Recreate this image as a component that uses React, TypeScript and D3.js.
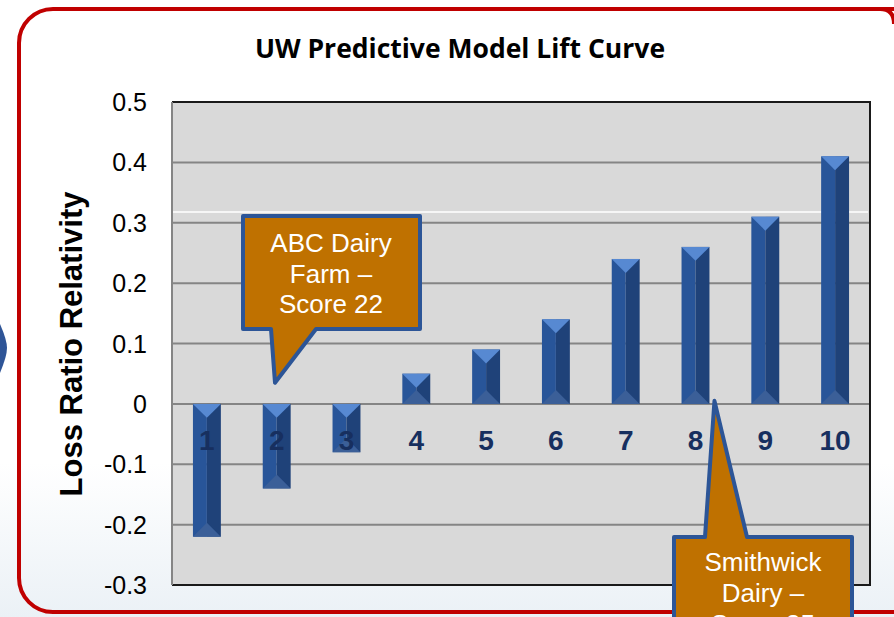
import React from "react";
import * as d3 from "d3";

const categories = ["1", "2", "3", "4", "5", "6", "7", "8", "9", "10"];
const values = [-0.22, -0.14, -0.08, 0.05, 0.09, 0.14, 0.24, 0.26, 0.31, 0.41];
const yTicks = [0.5, 0.4, 0.3, 0.2, 0.1, 0, -0.1, -0.2, -0.3];
const tickLabels = ["0.5", "0.4", "0.3", "0.2", "0.1", "0", "-0.1", "-0.2", "-0.3"];
const callout1 = ["ABC Dairy", "Farm \u2013", "Score  22"];
const callout2 = ["Smithwick", "Dairy  \u2013", "Score  35"];

const W = 894;
const H = 617;
const margin = { top: 102, right: 24, bottom: 30, left: 172 };

const App = () => {
  const x = d3
    .scaleBand()
    .domain(categories)
    .range([margin.left, W - margin.right])
    .paddingInner(0.6)
    .paddingOuter(0.3);

  const y = d3
    .scaleLinear()
    .domain([-0.3, 0.5])
    .range([H - margin.bottom - 2, margin.top]);

  const right = W - margin.right;
  const bottom = y(-0.3);
  const font = "'Liberation Sans', Arial, sans-serif";

  return (
    <svg
      width={W}
      height={H}
      style={{ position: "absolute", left: 0, top: 0, display: "block" }}
    >
      <defs>
        <linearGradient id="bg" x1="0" y1="0" x2="0" y2="1">
          <stop offset="0.75" stopColor="#ffffff" />
          <stop offset="1" stopColor="#ebf1f6" />
        </linearGradient>
      </defs>
      <rect width={W} height={H} fill="url(#bg)" />
      {/* slide arrow peeking in on the left */}
      <path d="M0,324 Q7,340 7,348 Q7,356 0,373 Z" fill="#2f5597" />

      {/* red frame */}
      <rect
        x={19}
        y={9}
        width={W + 20}
        height={603}
        rx={34}
        fill="none"
        stroke="#c00000"
        strokeWidth={4}
      />
      <path
        d={`M${W - 14},9 Q${W},9 ${W},24`}
        fill="none"
        stroke="#c00000"
        strokeWidth={4}
      />

      <text
        x={460}
        y={58}
        textAnchor="middle"
        fontFamily="'Open Sans', sans-serif"
        fontWeight="bold"
        fontSize={26.5}
      >
        UW Predictive Model Lift Curve
      </text>

      {/* plot area */}
      <rect
        x={margin.left}
        y={margin.top}
        width={right - margin.left}
        height={bottom - margin.top}
        fill="#d9d9d9"
      />
      {yTicks.map((t) => (
        <line
          key={t}
          x1={margin.left}
          x2={right}
          y1={y(t)}
          y2={y(t)}
          stroke="#858585"
          strokeWidth={2}
        />
      ))}
      <line
        x1={margin.left}
        x2={right - 2}
        y1={y(0.318)}
        y2={y(0.318)}
        stroke="#ffffff"
        strokeWidth={1.5}
      />
      <path
        d={`M${margin.left},${bottom} H${right} V${margin.top} H${margin.left}`}
        fill="none"
        stroke="#1a1a1a"
        strokeWidth={2}
      />
      <line
        x1={margin.left}
        x2={margin.left}
        y1={margin.top}
        y2={bottom}
        stroke="#858585"
        strokeWidth={2}
      />

      {/* bevelled bars */}
      {values.map((v, i) => {
        const x0 = x(categories[i]) as number;
        const w = x.bandwidth();
        const xm = x0 + w / 2;
        const x1 = x0 + w;
        const yT = y(Math.max(v, 0));
        const yB = y(Math.min(v, 0));
        const b = Math.min(w / 2, (yB - yT) / 2);
        return (
          <g key={i}>
            <rect x={x0} y={yT} width={w / 2} height={yB - yT} fill="#285599" />
            <rect x={xm} y={yT} width={w / 2} height={yB - yT} fill="#1f4279" />
            <polygon
              points={`${x0},${yB} ${x1},${yB} ${xm},${yB - b}`}
              fill="#3b5f98"
            />
            <polygon
              points={`${x0},${yT} ${x1},${yT} ${xm},${yT + b}`}
              fill="#5789d2"
            />
          </g>
        );
      })}

      {/* category labels */}
      {categories.map((c) => (
        <text
          key={c}
          x={(x(c) as number) + x.bandwidth() / 2}
          y={y(0) + 46}
          textAnchor="middle"
          fontFamily={font}
          fontWeight="bold"
          fontSize={28}
          fill="#172f5f"
        >
          {c}
        </text>
      ))}

      {/* y tick labels */}
      {yTicks.map((t, i) => (
        <text
          key={t}
          x={147}
          y={y(t) + 9}
          textAnchor="end"
          fontFamily={font}
          fontSize={25}
          fill="#000"
        >
          {tickLabels[i]}
        </text>
      ))}

      <text
        transform={`translate(82,344) rotate(-90)`}
        textAnchor="middle"
        fontFamily={font}
        fontWeight="bold"
        fontSize={31}
        fill="#000"
      >
        Loss Ratio Relativity
      </text>

      {/* callout: ABC Dairy Farm */}
      <path
        d={`M243,216 H420 V329 H316 L275,${y(0.035)} L271,329 H243 Z`}
        fill="#bf7100"
        stroke="#2c5597"
        strokeWidth={4}
        strokeLinejoin="round"
      />
      {callout1.map((s, i) => (
        <text
          key={s}
          x={331}
          y={252 + i * 30.5}
          textAnchor="middle"
          fontFamily={font}
          fontSize={26}
          fill="#ffffff"
        >
          {s}
        </text>
      ))}

      {/* callout: Smithwick Dairy (cut by the slide edge, as in the source) */}
      <path
        d={`M674,537 H705 L${(x("8") as number) + x.bandwidth() + 5},${y(0.005)} L747,537 H852 V660 H674 Z`}
        fill="#bf7100"
        stroke="#2c5597"
        strokeWidth={4}
        strokeLinejoin="round"
      />
      {callout2.map((s, i) => (
        <text
          key={s}
          x={763}
          y={571 + i * 31}
          textAnchor="middle"
          fontFamily={font}
          fontSize={26}
          fill="#ffffff"
        >
          {s}
        </text>
      ))}
    </svg>
  );
};

export default App;
